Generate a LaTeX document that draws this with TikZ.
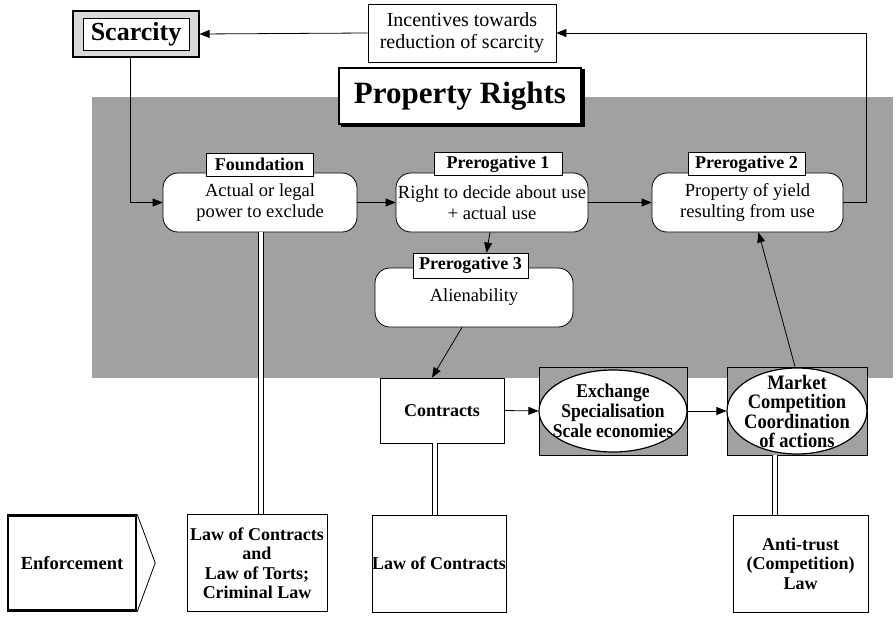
\documentclass[tikz,border=0pt]{standalone}
\usepackage{fontspec}
\setmainfont{Liberation Serif}
\newfontfamily\condensed{Liberation Serif}[FakeStretch=0.9]
\usetikzlibrary{arrows.meta,shapes.geometric}
\begin{document}
\begin{tikzpicture}[x=1pt,y=-1pt,
  line width=0.8pt,
  body/.style={font=\fontsize{18.5}{20.5}\selectfont, align=center},
  lbl/.style={draw, fill=white, font=\bfseries\fontsize{18}{20}\selectfont,
    inner xsep=0pt, inner ysep=0pt},
  rbox/.style={draw, fill=white, rounded corners=15pt, body, inner sep=0pt},
  sqbox/.style={draw, fill=white, align=center, inner sep=0pt,
    font=\bfseries\fontsize{18}{19.5}\selectfont},
  arr/.style={-{Triangle[length=10pt,width=8pt]}},
  rail/.style={line width=1pt},
  shade/.style={fill=black!37},
  oval/.style={ellipse, draw, fill=white, line width=1.2pt, inner sep=0pt},
  ovaltext/.style={inner sep=0pt, align=center},
]
\useasboundingbox (0,0) rectangle (896,618);

% shaded field of the property rights
\fill[shade] (92,97) rectangle (893,378);

% top row
\node[draw, line width=1.2pt, fill=black!15, minimum width=126, minimum height=46] (scarO) at (136,34) {};
\node[draw, fill=white, minimum width=106, minimum height=32, inner sep=0pt,
  font=\bfseries\fontsize{26}{28}\selectfont] (scar) at (136,34) {Scarcity};
\node[draw, fill=white, minimum width=188, minimum height=58, inner sep=0pt,
  font=\fontsize{20}{22}\selectfont, align=center] (inc) at (462,33)
  {Incentives towards\\reduction of scarcity};

% title box with its shadow
\fill (341,69) rectangle (585,127);
\node[draw, line width=2pt, fill=white, minimum width=242, minimum height=56, inner sep=0pt,
  font=\bfseries\fontsize{31}{33}\selectfont] (pr) at (460,96) {Property Rights};

% the four rights
\node[rbox, minimum width=194, minimum height=59] (found) at (260,202.5)
  {Actual or legal\\power to exclude};
\node[rbox, minimum width=192, minimum height=59] (p1) at (492,202.5)
  {Right to decide about use\\+ actual use};
\node[rbox, minimum width=191, minimum height=59] (p2) at (747.5,202.5)
  {Property of yield\\resulting from use};
\node[rbox, minimum width=198, minimum height=59] (p3) at (474,297.5) {Alienability};

\node[lbl, minimum width=107, minimum height=23] (foundl) at (259.5,164.5) {Foundation};
\node[lbl, minimum width=128, minimum height=23] (p1l) at (498,164) {Prerogative 1};
\node[lbl, minimum width=117, minimum height=23] (p2l) at (746.5,164) {Prerogative 2};
\node[lbl, minimum width=115, minimum height=25] (p3l) at (470.5,265.5) {Prerogative 3};

% market chain
\node[sqbox, minimum width=124, minimum height=65] (contr) at (442,410.5) {Contracts};
\node[draw, shade, minimum width=148, minimum height=88] (exg) at (613,411) {};
\node[oval, minimum width=148, minimum height=82] (exch) at (613,411) {};
\node[ovaltext, font=\condensed\bfseries\fontsize{19.5}{20}\selectfont] (excht) at (613,410.5)
  {Exchange\\Specialisation\\Scale economies};
\node[draw, shade, minimum width=140, minimum height=88] (mktg) at (797,411) {};
\node[oval, minimum width=140, minimum height=86] (mkt) at (797,411) {};
\node[ovaltext, font=\condensed\bfseries\fontsize{20.5}{19.5}\selectfont] (mktt) at (797,411.5)
  {Market\\Competition\\Coordination\\of actions};

% enforcement row
\node[sqbox, line width=2.4pt, minimum width=128, minimum height=95,
  font=\bfseries\fontsize{18.5}{20}\selectfont] (enf) at (72,563) {Enforcement};
\node[sqbox, minimum width=140, minimum height=97] (law1) at (257,563)
  {Law of Contracts\\and\\Law of Torts;\\Criminal Law};
\node[sqbox, minimum width=134, minimum height=97] (law2) at (439,563.5) {Law of Contracts};
\node[sqbox, minimum width=135, minimum height=97] (law3) at (800.5,563.5)
  {Anti-trust\\(Competition)\\Law};
\coordinate (tip) at ([xshift=18pt]enf.east);
\draw (enf.north east) -- (tip) -- (enf.south east);

% helper points for the connectors
\path (scarO.south) ++(-6,0) coordinate (sd);
\path (p1.south) ++(-2,0) coordinate (p1s);
\path (p3l.north) ++(16,0) coordinate (p3ln);
\path (p3.south) ++(-12,0) coordinate (p3s);
\path (contr.north) ++(-10,0) coordinate (ctn);
\path (p2.south) ++(11,0) coordinate (p2s);
\path (mktg.north) ++(-2,0) coordinate (mkn);

% flows
\draw[arr] (inc.west) -- (scarO.east);
\draw[arr] (p2.east) -- ++(23,0) |- (inc.east);
\draw[arr] (sd) |- (found.west);
\draw[arr] (found.east) -- (p1.west);
\draw[arr] (p1.east) -- (p2.west);
\draw[arr] (p1s) -- (p3ln);
\draw[arr] (p3s) -- (ctn);
\draw[arr] (contr.east) -- (exch.west);
\draw[arr] (exch.east) -- (mkt.west);
\draw[arr] (mkn) -- (p2s);

% enforcement links: pairs of parallel rails
\foreach \a/\b/\dx in {found/law1/1, contr/law2/-7, mktg/law3/-22}{
  \path (\a.south) ++(\dx,0) coordinate (top);
  \path (top |- \b.north) coordinate (bot);
  \fill[white] ([xshift=-2pt]top) rectangle ([xshift=2pt]bot);
  \draw[rail] ([xshift=-2.2pt]top) -- ([xshift=-2.2pt]bot);
  \draw[rail] ([xshift=2.2pt]top) -- ([xshift=2.2pt]bot);
}
\end{tikzpicture}
\end{document}
